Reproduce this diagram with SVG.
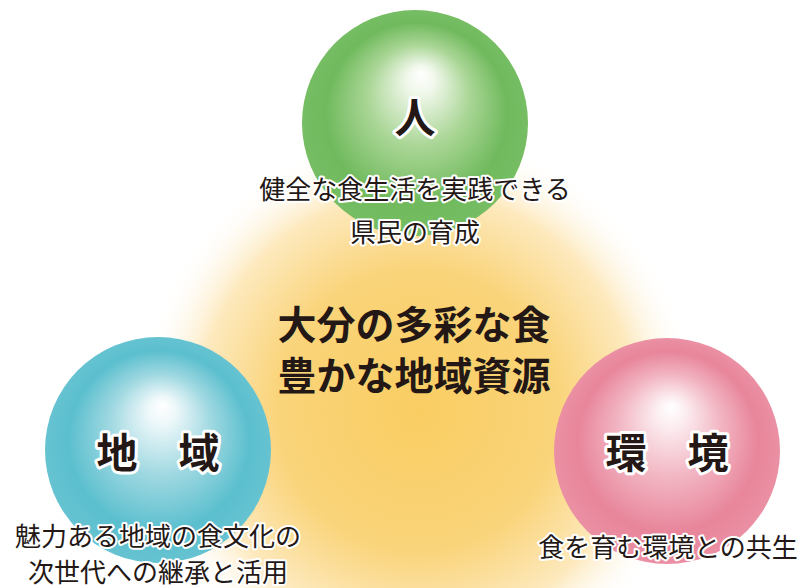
<svg xmlns="http://www.w3.org/2000/svg" width="800" height="588" viewBox="0 0 800 588">
<defs>
<radialGradient id="glow" cx="418" cy="410" r="280" gradientUnits="userSpaceOnUse">
<stop offset="0" stop-color="#F9CD62"/>
<stop offset="0.5" stop-color="#FAD47A"/>
<stop offset="0.78" stop-color="#FDE9BD"/>
<stop offset="1" stop-color="#FFFFFF" stop-opacity="0"/>
</radialGradient>
<radialGradient id="gGreen" cx="0.5" cy="0.5" r="0.5" fx="0.53" fy="0.28">
<stop offset="0" stop-color="#FFFFFF"/>
<stop offset="0.12" stop-color="#F1F8EC"/>
<stop offset="0.45" stop-color="#AAD696"/>
<stop offset="0.8" stop-color="#70BA5D"/>
<stop offset="1" stop-color="#76BD63"/>
</radialGradient>
<radialGradient id="gCyan" cx="0.5" cy="0.5" r="0.5" fx="0.52" fy="0.3">
<stop offset="0" stop-color="#FFFFFF"/>
<stop offset="0.12" stop-color="#EEF8FA"/>
<stop offset="0.45" stop-color="#9FD8E1"/>
<stop offset="0.8" stop-color="#5BBFCE"/>
<stop offset="1" stop-color="#66C3D1"/>
</radialGradient>
<radialGradient id="gPink" cx="0.5" cy="0.5" r="0.5" fx="0.52" fy="0.3">
<stop offset="0" stop-color="#FFFFFF"/>
<stop offset="0.12" stop-color="#FCEFF2"/>
<stop offset="0.45" stop-color="#F2B6C3"/>
<stop offset="0.8" stop-color="#E8859B"/>
<stop offset="1" stop-color="#EB90A4"/>
</radialGradient>
</defs>
<style>
text{font-family:"Noto Sans CJK JP","Noto Sans CJK SC",sans-serif;fill:#231815;text-anchor:middle}
.title{font-size:41px;font-weight:bold;stroke:#FFFFFF;stroke-width:6px;stroke-linejoin:round;paint-order:stroke}
.desc{font-size:26px;stroke:#FFFFFF;stroke-width:4px;stroke-linejoin:round;paint-order:stroke}
.center{font-size:39px;font-weight:bold}
</style>
<rect width="800" height="588" fill="#FFFFFF"/>
<g id="glow-bg">
<ellipse cx="418" cy="410" rx="285" ry="290" fill="url(#glow)"/>
</g>
<g id="connectors"></g>
<g id="node-hito">
<circle cx="415" cy="123" r="113" fill="url(#gGreen)"/>
<text class="title" x="415" y="133">人</text>
<text class="desc" x="415" y="199">健全な食生活を実践できる</text>
<text class="desc" x="415" y="242">県民の育成</text>
</g>
<g id="node-chiiki">
<circle cx="158" cy="450" r="113" fill="url(#gCyan)"/>
<text class="title" x="158" y="468" xml:space="preserve">地　域</text>
<text class="desc" x="158" y="546">魅力ある地域の食文化の</text>
<text class="desc" x="158" y="582">次世代への継承と活用</text>
</g>
<g id="node-kankyo">
<circle cx="667" cy="451" r="113" fill="url(#gPink)"/>
<text class="title" x="667" y="468" xml:space="preserve">環　境</text>
<text class="desc" x="668" y="557">食を育む環境との共生</text>
</g>
<g id="node-center">
<text class="center" x="414" y="339">大分の多彩な食</text>
<text class="center" x="414" y="390">豊かな地域資源</text>
</g>
</svg>
